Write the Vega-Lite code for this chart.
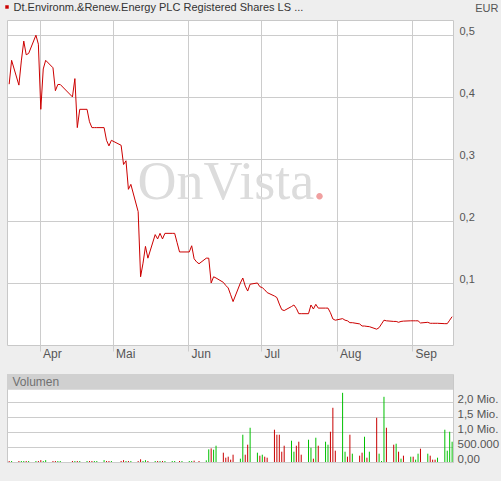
{
  "$schema": "https://vega.github.io/schema/vega-lite/v6.json",
  "background": "#eeeeee",
  "padding": {"left": 4, "top": 1, "right": 4, "bottom": 20},
  "bounds": "flush",
  "spacing": 29,
  "config": {
    "font": "Liberation Sans",
    "view": {"stroke": "#c8c8c8", "fill": "#ffffff"},
    "axis": {"labelFont": "Liberation Sans", "labelFontSize": 11, "labelColor": "#555555", "gridColor": "#cccccc", "gridOpacity": 1, "domain": false, "ticks": false, "labelOverlap": false}
  },
  "datasets": {
    "one": [{"k": 1}],
    "price": [
      {"date": "2009-03-19", "close": 0.4205}, {"date": "2009-03-20", "close": 0.459},
      {"date": "2009-03-23", "close": 0.419}, {"date": "2009-03-24", "close": 0.458}, {"date": "2009-03-25", "close": 0.49}, {"date": "2009-03-26", "close": 0.468}, {"date": "2009-03-27", "close": 0.47},
      {"date": "2009-03-30", "close": 0.4995}, {"date": "2009-03-31", "close": 0.485}, {"date": "2009-04-01", "close": 0.38}, {"date": "2009-04-02", "close": 0.445}, {"date": "2009-04-03", "close": 0.459},
      {"date": "2009-04-06", "close": 0.447}, {"date": "2009-04-07", "close": 0.41}, {"date": "2009-04-08", "close": 0.42}, {"date": "2009-04-09", "close": 0.42},
      {"date": "2009-04-14", "close": 0.4}, {"date": "2009-04-15", "close": 0.4295}, {"date": "2009-04-16", "close": 0.3505}, {"date": "2009-04-17", "close": 0.38},
      {"date": "2009-04-20", "close": 0.38}, {"date": "2009-04-21", "close": 0.36}, {"date": "2009-04-22", "close": 0.3505}, {"date": "2009-04-23", "close": 0.3505}, {"date": "2009-04-24", "close": 0.3505},
      {"date": "2009-04-27", "close": 0.3505}, {"date": "2009-04-28", "close": 0.33}, {"date": "2009-04-29", "close": 0.321}, {"date": "2009-04-30", "close": 0.33},
      {"date": "2009-05-04", "close": 0.322}, {"date": "2009-05-05", "close": 0.291}, {"date": "2009-05-06", "close": 0.297}, {"date": "2009-05-07", "close": 0.251}, {"date": "2009-05-08", "close": 0.259},
      {"date": "2009-05-11", "close": 0.215}, {"date": "2009-05-12", "close": 0.11}, {"date": "2009-05-13", "close": 0.132}, {"date": "2009-05-14", "close": 0.159}, {"date": "2009-05-15", "close": 0.14},
      {"date": "2009-05-18", "close": 0.178}, {"date": "2009-05-19", "close": 0.171}, {"date": "2009-05-20", "close": 0.18}, {"date": "2009-05-21", "close": 0.171}, {"date": "2009-05-22", "close": 0.18},
      {"date": "2009-05-25", "close": 0.18}, {"date": "2009-05-26", "close": 0.18}, {"date": "2009-05-27", "close": 0.165}, {"date": "2009-05-28", "close": 0.15}, {"date": "2009-05-29", "close": 0.15},
      {"date": "2009-06-01", "close": 0.15}, {"date": "2009-06-02", "close": 0.16}, {"date": "2009-06-03", "close": 0.139}, {"date": "2009-06-04", "close": 0.134}, {"date": "2009-06-05", "close": 0.131},
      {"date": "2009-06-08", "close": 0.14}, {"date": "2009-06-09", "close": 0.14}, {"date": "2009-06-10", "close": 0.1}, {"date": "2009-06-11", "close": 0.11}, {"date": "2009-06-12", "close": 0.108},
      {"date": "2009-06-15", "close": 0.101}, {"date": "2009-06-16", "close": 0.096}, {"date": "2009-06-17", "close": 0.092}, {"date": "2009-06-18", "close": 0.081}, {"date": "2009-06-19", "close": 0.07},
      {"date": "2009-06-22", "close": 0.1}, {"date": "2009-06-23", "close": 0.108}, {"date": "2009-06-24", "close": 0.095}, {"date": "2009-06-25", "close": 0.087}, {"date": "2009-06-26", "close": 0.098},
      {"date": "2009-06-29", "close": 0.1}, {"date": "2009-06-30", "close": 0.094}, {"date": "2009-07-01", "close": 0.0925}, {"date": "2009-07-02", "close": 0.089}, {"date": "2009-07-03", "close": 0.0845},
      {"date": "2009-07-06", "close": 0.079}, {"date": "2009-07-07", "close": 0.0765}, {"date": "2009-07-08", "close": 0.066}, {"date": "2009-07-09", "close": 0.057}, {"date": "2009-07-10", "close": 0.0555},
      {"date": "2009-07-13", "close": 0.062}, {"date": "2009-07-14", "close": 0.0645}, {"date": "2009-07-15", "close": 0.059}, {"date": "2009-07-16", "close": 0.0505}, {"date": "2009-07-17", "close": 0.0505},
      {"date": "2009-07-20", "close": 0.0505}, {"date": "2009-07-21", "close": 0.0645}, {"date": "2009-07-22", "close": 0.058}, {"date": "2009-07-23", "close": 0.0656}, {"date": "2009-07-24", "close": 0.0595},
      {"date": "2009-07-27", "close": 0.0595}, {"date": "2009-07-28", "close": 0.0595}, {"date": "2009-07-29", "close": 0.052}, {"date": "2009-07-30", "close": 0.042}, {"date": "2009-07-31", "close": 0.04},
      {"date": "2009-08-03", "close": 0.0425}, {"date": "2009-08-04", "close": 0.04}, {"date": "2009-08-05", "close": 0.039}, {"date": "2009-08-06", "close": 0.036}, {"date": "2009-08-07", "close": 0.036},
      {"date": "2009-08-10", "close": 0.034}, {"date": "2009-08-11", "close": 0.0306}, {"date": "2009-08-12", "close": 0.0306}, {"date": "2009-08-13", "close": 0.03}, {"date": "2009-08-14", "close": 0.0296},
      {"date": "2009-08-17", "close": 0.0255}, {"date": "2009-08-18", "close": 0.028}, {"date": "2009-08-19", "close": 0.034}, {"date": "2009-08-20", "close": 0.04}, {"date": "2009-08-21", "close": 0.039},
      {"date": "2009-08-24", "close": 0.038}, {"date": "2009-08-25", "close": 0.038}, {"date": "2009-08-26", "close": 0.0366}, {"date": "2009-08-27", "close": 0.038}, {"date": "2009-08-28", "close": 0.0385},
      {"date": "2009-08-31", "close": 0.039}, {"date": "2009-09-01", "close": 0.039}, {"date": "2009-09-02", "close": 0.039}, {"date": "2009-09-03", "close": 0.039}, {"date": "2009-09-04", "close": 0.0355},
      {"date": "2009-09-07", "close": 0.0366}, {"date": "2009-09-08", "close": 0.035}, {"date": "2009-09-09", "close": 0.035}, {"date": "2009-09-10", "close": 0.035}, {"date": "2009-09-11", "close": 0.035},
      {"date": "2009-09-14", "close": 0.0344}, {"date": "2009-09-15", "close": 0.0344}, {"date": "2009-09-16", "close": 0.04}, {"date": "2009-09-17", "close": 0.0457}
    ],
    "vol": [
      {"date": "2009-03-19", "volume": 33000, "dir": "down"}, {"date": "2009-03-20", "volume": 33000, "dir": "up"},
      {"date": "2009-03-23", "volume": 33000, "dir": "down"}, {"date": "2009-03-24", "volume": 33000, "dir": "up"}, {"date": "2009-03-25", "volume": 33000, "dir": "up"}, {"date": "2009-03-26", "volume": 33000, "dir": "down"}, {"date": "2009-03-27", "volume": 33000, "dir": "up"},
      {"date": "2009-03-30", "volume": 33000, "dir": "up"}, {"date": "2009-03-31", "volume": 33000, "dir": "down"}, {"date": "2009-04-01", "volume": 62000, "dir": "down"}, {"date": "2009-04-02", "volume": 33000, "dir": "up"}, {"date": "2009-04-03", "volume": 62000, "dir": "up"},
      {"date": "2009-04-06", "volume": 33000, "dir": "down"}, {"date": "2009-04-07", "volume": 33000, "dir": "down"}, {"date": "2009-04-08", "volume": 33000, "dir": "up"}, {"date": "2009-04-09", "volume": 33000, "dir": "up"},
      {"date": "2009-04-14", "volume": 33000, "dir": "down"}, {"date": "2009-04-15", "volume": 33000, "dir": "up"}, {"date": "2009-04-16", "volume": 33000, "dir": "down"}, {"date": "2009-04-17", "volume": 33000, "dir": "up"},
      {"date": "2009-04-20", "volume": 33000, "dir": "up"}, {"date": "2009-04-21", "volume": 33000, "dir": "down"}, {"date": "2009-04-22", "volume": 33000, "dir": "down"}, {"date": "2009-04-23", "volume": 33000, "dir": "up"}, {"date": "2009-04-24", "volume": 33000, "dir": "up"},
      {"date": "2009-04-27", "volume": 62000, "dir": "up"}, {"date": "2009-04-28", "volume": 33000, "dir": "down"}, {"date": "2009-04-29", "volume": 33000, "dir": "down"}, {"date": "2009-04-30", "volume": 33000, "dir": "up"},
      {"date": "2009-05-04", "volume": 33000, "dir": "down"}, {"date": "2009-05-05", "volume": 62000, "dir": "down"}, {"date": "2009-05-06", "volume": 33000, "dir": "up"}, {"date": "2009-05-07", "volume": 33000, "dir": "down"}, {"date": "2009-05-08", "volume": 33000, "dir": "up"},
      {"date": "2009-05-11", "volume": 33000, "dir": "down"}, {"date": "2009-05-12", "volume": 90000, "dir": "down"}, {"date": "2009-05-13", "volume": 33000, "dir": "up"}, {"date": "2009-05-14", "volume": 62000, "dir": "up"}, {"date": "2009-05-15", "volume": 33000, "dir": "down"},
      {"date": "2009-05-18", "volume": 33000, "dir": "up"}, {"date": "2009-05-19", "volume": 33000, "dir": "down"}, {"date": "2009-05-20", "volume": 33000, "dir": "up"}, {"date": "2009-05-21", "volume": 33000, "dir": "down"}, {"date": "2009-05-22", "volume": 33000, "dir": "up"},
      {"date": "2009-05-25", "volume": 33000, "dir": "up"}, {"date": "2009-05-26", "volume": 33000, "dir": "up"}, {"date": "2009-05-28", "volume": 33000, "dir": "down"}, {"date": "2009-05-29", "volume": 33000, "dir": "up"},
      {"date": "2009-06-01", "volume": 33000, "dir": "up"}, {"date": "2009-06-02", "volume": 33000, "dir": "up"}, {"date": "2009-06-03", "volume": 44000, "dir": "down"}, {"date": "2009-06-05", "volume": 33000, "dir": "down"},
      {"date": "2009-06-08", "volume": 55000, "dir": "up"}, {"date": "2009-06-09", "volume": 422000, "dir": "up"}, {"date": "2009-06-10", "volume": 455000, "dir": "down"}, {"date": "2009-06-11", "volume": 411000, "dir": "up"}, {"date": "2009-06-12", "volume": 544000, "dir": "up"},
      {"date": "2009-06-15", "volume": 311000, "dir": "down"}, {"date": "2009-06-16", "volume": 144000, "dir": "down"}, {"date": "2009-06-17", "volume": 178000, "dir": "down"}, {"date": "2009-06-18", "volume": 78000, "dir": "down"}, {"date": "2009-06-19", "volume": 244000, "dir": "down"},
      {"date": "2009-06-22", "volume": 111000, "dir": "up"}, {"date": "2009-06-23", "volume": 911000, "dir": "up"}, {"date": "2009-06-24", "volume": 244000, "dir": "down"}, {"date": "2009-06-25", "volume": 578000, "dir": "down"}, {"date": "2009-06-26", "volume": 1144000, "dir": "up"},
      {"date": "2009-06-29", "volume": 311000, "dir": "up"}, {"date": "2009-06-30", "volume": 211000, "dir": "down"}, {"date": "2009-07-01", "volume": 244000, "dir": "up"}, {"date": "2009-07-02", "volume": 178000, "dir": "down"}, {"date": "2009-07-03", "volume": 144000, "dir": "down"},
      {"date": "2009-07-06", "volume": 1078000, "dir": "down"}, {"date": "2009-07-07", "volume": 911000, "dir": "down"}, {"date": "2009-07-08", "volume": 911000, "dir": "down"}, {"date": "2009-07-09", "volume": 344000, "dir": "down"}, {"date": "2009-07-10", "volume": 544000, "dir": "down"},
      {"date": "2009-07-13", "volume": 711000, "dir": "up"}, {"date": "2009-07-14", "volume": 344000, "dir": "up"}, {"date": "2009-07-15", "volume": 544000, "dir": "down"}, {"date": "2009-07-16", "volume": 678000, "dir": "down"}, {"date": "2009-07-17", "volume": 244000, "dir": "down"},
      {"date": "2009-07-20", "volume": 744000, "dir": "up"}, {"date": "2009-07-21", "volume": 478000, "dir": "up"}, {"date": "2009-07-22", "volume": 111000, "dir": "down"}, {"date": "2009-07-23", "volume": 811000, "dir": "up"}, {"date": "2009-07-24", "volume": 544000, "dir": "down"},
      {"date": "2009-07-27", "volume": 678000, "dir": "up"}, {"date": "2009-07-28", "volume": 578000, "dir": "up"}, {"date": "2009-07-29", "volume": 1011000, "dir": "down"}, {"date": "2009-07-30", "volume": 1811000, "dir": "down"}, {"date": "2009-07-31", "volume": 378000, "dir": "down"},
      {"date": "2009-08-03", "volume": 2311000, "dir": "up"}, {"date": "2009-08-04", "volume": 344000, "dir": "up"}, {"date": "2009-08-05", "volume": 178000, "dir": "down"}, {"date": "2009-08-06", "volume": 911000, "dir": "down"}, {"date": "2009-08-07", "volume": 278000, "dir": "up"},
      {"date": "2009-08-10", "volume": 211000, "dir": "down"}, {"date": "2009-08-11", "volume": 311000, "dir": "down"}, {"date": "2009-08-12", "volume": 844000, "dir": "up"}, {"date": "2009-08-13", "volume": 144000, "dir": "down"}, {"date": "2009-08-14", "volume": 344000, "dir": "up"},
      {"date": "2009-08-17", "volume": 1478000, "dir": "down"}, {"date": "2009-08-18", "volume": 278000, "dir": "up"}, {"date": "2009-08-19", "volume": 33000, "dir": "up"}, {"date": "2009-08-20", "volume": 2178000, "dir": "up"}, {"date": "2009-08-21", "volume": 1144000, "dir": "down"},
      {"date": "2009-08-24", "volume": 578000, "dir": "down"}, {"date": "2009-08-25", "volume": 611000, "dir": "up"}, {"date": "2009-08-26", "volume": 344000, "dir": "down"}, {"date": "2009-08-27", "volume": 111000, "dir": "up"}, {"date": "2009-08-28", "volume": 211000, "dir": "down"},
      {"date": "2009-08-31", "volume": 178000, "dir": "up"}, {"date": "2009-09-01", "volume": 178000, "dir": "down"}, {"date": "2009-09-02", "volume": 78000, "dir": "up"}, {"date": "2009-09-03", "volume": 278000, "dir": "up"}, {"date": "2009-09-04", "volume": 444000, "dir": "down"},
      {"date": "2009-09-07", "volume": 278000, "dir": "up"}, {"date": "2009-09-08", "volume": 211000, "dir": "down"}, {"date": "2009-09-09", "volume": 78000, "dir": "down"}, {"date": "2009-09-10", "volume": 78000, "dir": "down"}, {"date": "2009-09-11", "volume": 144000, "dir": "up"},
      {"date": "2009-09-14", "volume": 1078000, "dir": "up"}, {"date": "2009-09-15", "volume": 378000, "dir": "up"}, {"date": "2009-09-16", "volume": 1011000, "dir": "up"}, {"date": "2009-09-17", "volume": 678000, "dir": "up"}
    ]
  },
  "vconcat": [
    {
      "width": 446,
      "height": 325,
      "layer": [
        {
          "data": {"name": "price"},
          "mark": {"type": "line", "color": "#cc0000", "strokeWidth": 1, "xOffset": 1.2},
          "encoding": {
            "x": {
              "field": "date", "type": "temporal",
              "scale": {"type": "utc", "domain": [{"year": 2009, "month": 3, "date": 18, "hours": 14, "minutes": 30, "utc": true}, {"year": 2009, "month": 9, "date": 17, "hours": 20, "minutes": 30, "utc": true}]},
              "axis": {
                "title": null, "grid": true, "ticks": true, "tickSize": 6, "tickColor": "#cccccc", "orient": "bottom",
                "values": [{"year": 2009, "month": 4, "date": 1, "utc": true}, {"year": 2009, "month": 5, "date": 1, "utc": true}, {"year": 2009, "month": 6, "date": 1, "utc": true}, {"year": 2009, "month": 7, "date": 1, "utc": true}, {"year": 2009, "month": 8, "date": 1, "utc": true}, {"year": 2009, "month": 9, "date": 1, "utc": true}],
                "labelExpr": "['Jan','Feb','Mär','Apr','Mai','Jun','Jul','Aug','Sep','Okt','Nov','Dez'][utcmonth(datum.value)]",
                "labelAlign": "left", "labelOffset": 3, "labelPadding": -3, "labelBaseline": "top", "labelFontSize": 12
              }
            },
            "y": {
              "field": "close", "type": "quantitative",
              "scale": {"domain": [0, 0.524], "nice": false, "zero": false},
              "axis": {
                "orient": "right", "values": [0.1, 0.2, 0.3, 0.4, 0.5], "grid": true,
                "labelExpr": "replace(format(datum.value, '.1f'), '.', ',')",
                "labelPadding": 6, "labelAlign": "left", "labelBaseline": "alphabetic",
                "title": "EUR", "titleAngle": 0, "titleAlign": "right", "titleBaseline": "middle", "titleX": 45, "titleY": -12,
                "titleFontSize": 11, "titleFontWeight": "normal", "titleColor": "#555555", "titleFont": "Liberation Sans"
              }
            }
          }
        },
        {
          "data": {"name": "one"},
          "mark": {"type": "text", "font": "Liberation Serif", "fontSize": 54, "color": "#dcdcdc", "align": "center", "baseline": "alphabetic"},
          "encoding": {
            "x": {"datum": {"year": 2009, "month": 6, "date": 16, "hours": 12, "utc": true}, "type": "temporal", "axis": {"title": null, "orient": "bottom"}},
            "y": {"datum": 0.2355, "type": "quantitative", "axis": {"title": "EUR", "orient": "right"}},
            "text": {"value": "OnVista"}
          }
        },
        {
          "data": {"name": "one"},
          "mark": {"type": "text", "font": "Liberation Serif", "fontSize": 54, "color": "#f0a0a0", "align": "center", "baseline": "alphabetic"},
          "encoding": {
            "x": {"datum": {"year": 2009, "month": 7, "date": 25, "utc": true}, "type": "temporal", "axis": {"title": null, "orient": "bottom"}},
            "y": {"datum": 0.2355, "type": "quantitative", "axis": {"title": "EUR", "orient": "right"}},
            "text": {"value": "."}
          }
        },
        {
          "data": {"name": "one"},
          "mark": {"type": "text", "align": "left", "baseline": "middle", "dx": 6.5, "fontSize": 11, "color": "#333333", "font": "Liberation Sans"},
          "encoding": {
            "x": {"datum": {"year": 2009, "month": 3, "date": 18, "hours": 14, "minutes": 30, "utc": true}, "type": "temporal", "axis": {"title": null, "orient": "bottom"}},
            "y": {"datum": 0.5434, "type": "quantitative", "axis": {"title": "EUR", "orient": "right"}},
            "text": {"value": "Dt.Environm.&Renew.Energy PLC Registered Shares LS ..."}
          }
        },
        {
          "data": {"name": "one"},
          "mark": {"type": "point", "shape": "square", "filled": true, "size": 12, "color": "#cc0000", "opacity": 1},
          "encoding": {
            "x": {"datum": {"year": 2009, "month": 3, "date": 18, "hours": 14, "minutes": 30, "utc": true}, "type": "temporal", "axis": {"title": null, "orient": "bottom"}},
            "y": {"datum": 0.545, "type": "quantitative", "axis": {"title": "EUR", "orient": "right"}}
          }
        }
      ]
    },
    {
      "width": 446,
      "height": 88,
      "layer": [
        {
          "data": {"name": "vol"},
          "mark": {"type": "rule", "strokeWidth": 1, "xOffset": 1.2},
          "encoding": {
            "x": {
              "field": "date", "type": "temporal",
              "scale": {"type": "utc", "domain": [{"year": 2009, "month": 3, "date": 18, "hours": 14, "minutes": 30, "utc": true}, {"year": 2009, "month": 9, "date": 17, "hours": 20, "minutes": 30, "utc": true}]},
              "axis": null
            },
            "y": {
              "field": "volume", "type": "quantitative",
              "scale": {"domain": [0, 2940000], "nice": false},
              "axis": {
                "orient": "right", "values": [0, 500000, 1000000, 1500000, 2000000], "grid": true, "title": null, "labelOverlap": false,
                "labelExpr": "datum.value == 0 ? '0,00' : datum.value == 500000 ? '500.000' : replace(format(datum.value / 1000000, '.1f'), '.', ',') + ' Mio.'",
                "labelPadding": 4, "labelAlign": "left", "labelBaseline": "alphabetic", "labelFontSize": 11.5
              }
            },
            "y2": {"datum": 0},
            "color": {"field": "dir", "type": "nominal", "scale": {"domain": ["down", "up"], "range": ["#c80000", "#00c000"]}, "legend": null}
          }
        },
        {
          "data": {"name": "one"},
          "mark": {"type": "rect", "color": "#d0d0d0"},
          "encoding": {
            "y": {"datum": 2410000, "type": "quantitative", "axis": {
                "orient": "right", "values": [0, 500000, 1000000, 1500000, 2000000], "grid": true, "title": null, "labelOverlap": false,
                "labelExpr": "datum.value == 0 ? '0,00' : datum.value == 500000 ? '500.000' : replace(format(datum.value / 1000000, '.1f'), '.', ',') + ' Mio.'",
                "labelPadding": 4, "labelAlign": "left", "labelBaseline": "alphabetic", "labelFontSize": 11.5
              }},
            "y2": {"datum": 2940000}
          }
        },
        {
          "data": {"name": "one"},
          "mark": {"type": "text", "align": "left", "baseline": "middle", "dx": 5.5, "fontSize": 12, "color": "#707070", "font": "Liberation Sans"},
          "encoding": {
            "x": {"datum": {"year": 2009, "month": 3, "date": 18, "hours": 14, "minutes": 30, "utc": true}, "type": "temporal", "axis": null},
            "y": {"datum": 2675000, "type": "quantitative", "axis": {
                "orient": "right", "values": [0, 500000, 1000000, 1500000, 2000000], "grid": true, "title": null, "labelOverlap": false,
                "labelExpr": "datum.value == 0 ? '0,00' : datum.value == 500000 ? '500.000' : replace(format(datum.value / 1000000, '.1f'), '.', ',') + ' Mio.'",
                "labelPadding": 4, "labelAlign": "left", "labelBaseline": "alphabetic", "labelFontSize": 11.5
              }},
            "text": {"value": "Volumen"}
          }
        }
      ]
    }
  ]
}
